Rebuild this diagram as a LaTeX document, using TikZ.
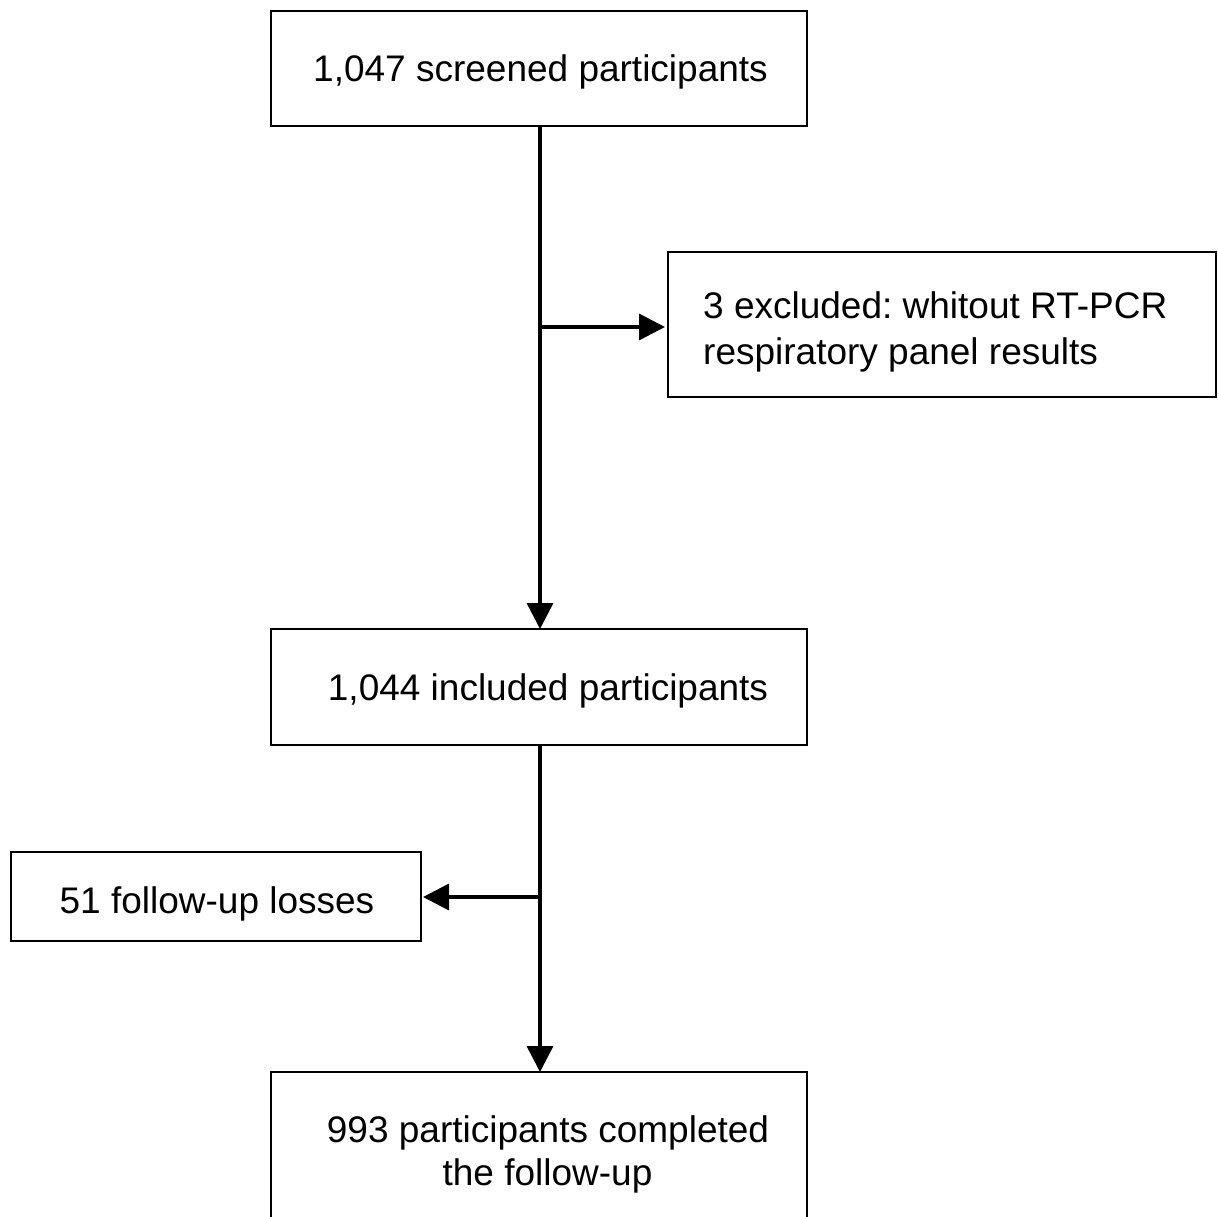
\documentclass[tikz,border=0pt]{standalone}
\usepackage{fontspec}
\setmainfont{Liberation Sans}
\usetikzlibrary{arrows.meta}
\begin{document}
\frenchspacing
\begin{tikzpicture}[x=1pt,y=-1pt,
  box/.style={draw=black,line width=2pt,inner sep=0pt,outer sep=0pt,fill=white},
  txt/.style={inner sep=0pt,font=\fontsize{37}{44}\selectfont},
  arr/.style={line width=3.5pt,-{Triangle[length=26pt,width=26pt]}}]
\useasboundingbox (0,0) rectangle (1218,1217);
\clip (0,0) rectangle (1218,1217);
% boxes
\node[box,minimum width=536pt,minimum height=115pt] (top) at (539,68.5) {};
\node[box,minimum width=548pt,minimum height=145pt] (excl) at (942,324.5) {};
\node[box,minimum width=536pt,minimum height=116pt] (mid) at (539,687) {};
\node[box,minimum width=410pt,minimum height=89pt] (loss) at (216,896.5) {};
\node[box,minimum width=536pt,minimum height=168pt] (fin) at (539,1156) {};
% texts
\node[txt,anchor=base] (ttop) at (540.5,82) {1,047 screened participants};
\node[txt,anchor=base west] (texcl1) at (703,318) {3 excluded: whitout RT-PCR};
\node[txt,anchor=base west] (texcl2) at (703,364) {respiratory panel results};
\node[txt,anchor=base] (tmid) at (548,700) {1,044 included participants};
\node[txt,anchor=base] (tloss) at (217,913) {51 follow-up losses};
\node[txt,anchor=base] (tfin1) at (548,1142) {993 participants completed};
\node[txt,anchor=base] (tfin2) at (547.5,1185) {the follow-up};
% connectors
\coordinate (s1) at (540,126);
\coordinate (b1) at (540,327);
\coordinate (s2) at (540,745);
\coordinate (b2) at (540,897);
\draw[arr] (s1) -- (s1 |- mid.north);
\draw[arr,shorten >=3pt] (b1) -- (b1 -| excl.west);
\draw[arr] (s2) -- (s2 |- fin.north);
\draw[arr,shorten >=2pt] (b2) -- (b2 -| loss.east);
\end{tikzpicture}
\end{document}
